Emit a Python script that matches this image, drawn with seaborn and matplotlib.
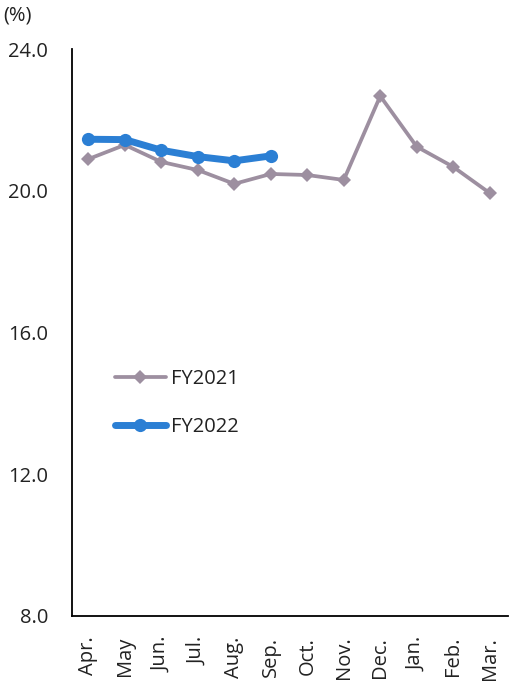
import matplotlib
matplotlib.use("Agg")
import matplotlib.pyplot as plt
import seaborn as sns
import pandas as pd

months = ["Apr.", "May", "Jun.", "Jul.", "Aug.", "Sep.", "Oct.", "Nov.", "Dec.", "Jan.", "Feb.", "Mar."]
fy2021 = [20.90, 21.30, 20.82, 20.59, 20.20, 20.48, 20.45, 20.31, 22.68, 21.25, 20.68, 19.94]
fy2022 = [21.46, 21.45, 21.15, 20.97, 20.85, 20.99]
yticks = [8.0, 12.0, 16.0, 20.0, 24.0]

sns.set_theme(style="white")
plt.rcParams['font.family'] = ['Open Sans', 'DejaVu Sans']

df21 = pd.DataFrame({"x": range(len(fy2021)), "y": fy2021})
df22 = pd.DataFrame({"x": range(len(fy2022)), "y": fy2022})

fig = plt.figure(figsize=(5.1, 6.85), dpi=100)
ax = fig.add_axes([0.141, 0.101, 0.855, 0.827])

sns.lineplot(data=df21, x="x", y="y", ax=ax, color="#9D8FA0", linewidth=2.7,
             marker="D", markersize=7, markeredgewidth=0, label="FY2021")
sns.lineplot(data=df22, x="x", y="y", ax=ax, color="#2B7FD4", linewidth=5,
             marker="o", markersize=9.5, markeredgewidth=0, label="FY2022")

ax.set_xlim(-0.45, 11.5)
ax.set_ylim(8.0, 24.0)
ax.set_xticks(range(len(months)))
ax.set_xticklabels(months, rotation=90, fontsize=14.5, color="#222222")
ax.set_yticks(yticks)
ax.set_yticklabels([f"{v:.1f}" for v in yticks], fontsize=14.5, color="#222222")
ax.tick_params(axis="x", length=0, pad=15)
ax.tick_params(axis="y", length=0, pad=17)
ax.set_xlabel("")
ax.set_ylabel("")
for s in ["top", "right"]:
    ax.spines[s].set_visible(False)
for s in ["left", "bottom"]:
    ax.spines[s].set_color("black")
    ax.spines[s].set_linewidth(1.3)

fig.text(0.006, 0.977, "(%)", fontsize=14.5, color="#222222", ha="left", va="center")

leg = ax.legend(loc="upper left", bbox_to_anchor=(0.21, 0.473), bbox_transform=fig.transFigure,
                borderaxespad=0, frameon=False,
                fontsize=14.5, handlelength=2.5, labelspacing=1.4, handletextpad=0.25)
for t in leg.get_texts():
    t.set_color("#222222")

fig.savefig("out.png", dpi=100)
